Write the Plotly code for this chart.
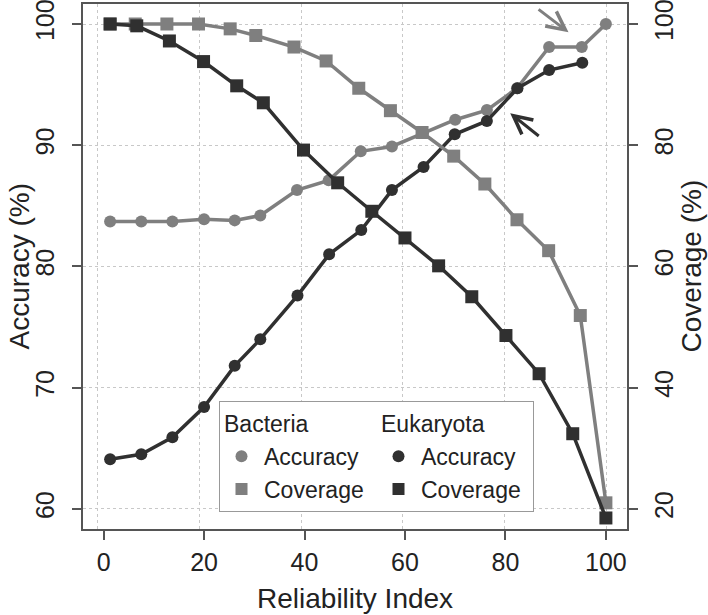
import plotly.graph_objects as go

# ---- data ----
bact_acc_x = [1.3, 7.5, 13.7, 20.0, 26.1, 31.2, 38.5, 44.8, 51.2, 57.4, 63.6, 70.0, 76.3, 82.3, 88.7, 95.2, 100]
bact_acc_y = [83.7, 83.7, 83.7, 83.9, 83.8, 84.2, 86.3, 87.1, 89.5, 89.9, 91.0, 92.1, 92.9, 94.7, 98.1, 98.1, 100]
euk_acc_x = [1.3, 7.5, 13.7, 20.0, 26.1, 31.2, 38.6, 44.9, 51.3, 57.4, 63.7, 69.9, 76.3, 82.4, 88.7, 95.3]
euk_acc_y = [64.1, 64.5, 65.9, 68.4, 71.8, 74.0, 77.6, 81.0, 83.0, 86.3, 88.2, 90.9, 92.0, 94.7, 96.2, 96.8]
bact_cov_x = [1.3, 6.3, 12.6, 18.9, 25.2, 30.3, 37.9, 44.3, 50.8, 57.1, 63.4, 69.7, 75.9, 82.3, 88.6, 94.9, 100]
bact_cov_y = [100, 100, 100, 100, 99.2, 98.1, 96.2, 93.9, 89.4, 85.7, 82.1, 78.2, 73.6, 67.7, 62.6, 51.9, 21.0]
euk_cov_x = [1.3, 6.6, 13.1, 19.9, 26.5, 31.8, 39.8, 46.6, 53.4, 60.0, 66.7, 73.3, 80.1, 86.7, 93.4, 100]
euk_cov_y = [100, 99.7, 97.2, 93.8, 89.8, 87.0, 79.2, 73.8, 69.1, 64.7, 60.1, 55.0, 48.6, 42.3, 32.4, 18.5]

x_ticks = [0, 20, 40, 60, 80, 100]
acc_ticks = [60, 70, 80, 90, 100]
cov_ticks = [20, 40, 60, 80, 100]

LIGHT = "#7f7f7f"
DARK = "#303030"
FONT = "Liberation Sans, Arial, sans-serif"
TXT = "#222222"
GRID = "#c8c8c8"

fig = go.Figure()

def series(x, y, color, symbol, size, yaxis):
    fig.add_trace(go.Scatter(
        x=x, y=y, mode="lines+markers", yaxis=yaxis, showlegend=False,
        line=dict(color=color, width=3.5),
        marker=dict(color=color, symbol=symbol, size=size, line=dict(width=0)),
    ))

series(bact_acc_x, bact_acc_y, LIGHT, "circle", 12, "y")
series(euk_acc_x, euk_acc_y, DARK, "circle", 12, "y")
series(bact_cov_x, bact_cov_y, LIGHT, "square", 13, "y2")
series(euk_cov_x, euk_cov_y, DARK, "square", 13, "y2")

# legend-only entries
first = True
for grp, color in (("Bacteria", LIGHT), ("Eukaryota", DARK)):
    for name, sym in (("Accuracy", "circle"), ("Coverage", "square")):
        fig.add_trace(go.Scatter(
            x=[None], y=[None], mode="markers", name=name,
            xaxis="x2" if first else "x",
            legendgroup=grp, legendgrouptitle=dict(text=grp, font=dict(size=23, color=TXT, family=FONT)),
            marker=dict(color=color, symbol=sym, size=12),
        ))
        first = False

axis_common = dict(
    ticks="outside", ticklen=9, tickwidth=1.5, tickcolor="#555555",
    showline=True, linecolor="#555555", linewidth=1.5,
    tickfont=dict(size=25, color=TXT, family=FONT),
    zeroline=False, automargin=False,
)

title_font = dict(size=28, color=TXT, family=FONT)

fig.update_layout(
    width=708, height=615,
    margin=dict(l=83, r=81, t=4, b=86),
    paper_bgcolor="white", plot_bgcolor="white",
    font=dict(family=FONT, color=TXT),
    hovermode=False,
    xaxis=dict(
        range=[-4.1, 104.2], tickvals=x_ticks, mirror=True,
        showgrid=False,
        ticklabelstandoff=1,
        **axis_common,
    ),
    # grid layer (slightly different scaling, as in the reference)
    xaxis2=dict(
        range=[-2.87, 104.1], tickvals=x_ticks, overlaying="x", side="bottom",
        showgrid=True, gridcolor=GRID, griddash="dot", gridwidth=1,
        showticklabels=False, ticks="", showline=False, zeroline=False, automargin=False,
    ),
    yaxis=dict(
        range=[58.34, 101.65], tickvals=acc_ticks, tickangle=-90,
        showgrid=True, gridcolor=GRID, griddash="dot", gridwidth=1,
        ticklabelstandoff=8, ticklabeloverflow="allow",
        **axis_common,
    ),
    yaxis2=dict(
        range=[16.68, 103.3], tickvals=cov_ticks, tickangle=-90, overlaying="y", side="right",
        showgrid=False, ticklabelstandoff=5, ticklabeloverflow="allow",
        **axis_common,
    ),
    legend=dict(
        orientation="h", traceorder="grouped",
        x=0.25, y=0.2442, xanchor="left", yanchor="top",
        bgcolor="white", bordercolor="#999999", borderwidth=1,
        font=dict(size=23, color=TXT, family=FONT),
        itemwidth=35, entrywidth=107, entrywidthmode="pixels",
    ),
    annotations=[
        dict(x=92.56, y=99.32, ax=86.3, ay=101.3, xref="x", yref="y", axref="x", ayref="y",
             showarrow=True, arrowhead=5, arrowsize=1.2, arrowwidth=3, arrowcolor=LIGHT, text=""),
        dict(x=80.95, y=92.64, ax=86.93, ay=90.66, xref="x", yref="y", axref="x", ayref="y",
             showarrow=True, arrowhead=5, arrowsize=1.2, arrowwidth=3, arrowcolor=DARK, text=""),
        # axis titles
        dict(text="Reliability Index", x=0.5, y=0, xref="paper", yref="paper",
             yshift=-69, showarrow=False, font=title_font, xanchor="center", yanchor="middle"),
        dict(text="Accuracy (%)", x=0, y=0.5, xref="paper", yref="paper", textangle=-90,
             xshift=-64, showarrow=False, font=title_font, xanchor="center", yanchor="middle"),
        dict(text="Coverage (%)", x=1, y=0.5, xref="paper", yref="paper", textangle=-90,
             xshift=64, showarrow=False, font=title_font, xanchor="center", yanchor="middle"),
    ],
)

fig.write_html("out.html", config={"displayModeBar": False},
               post_script="document.body.style.margin='0px';")
